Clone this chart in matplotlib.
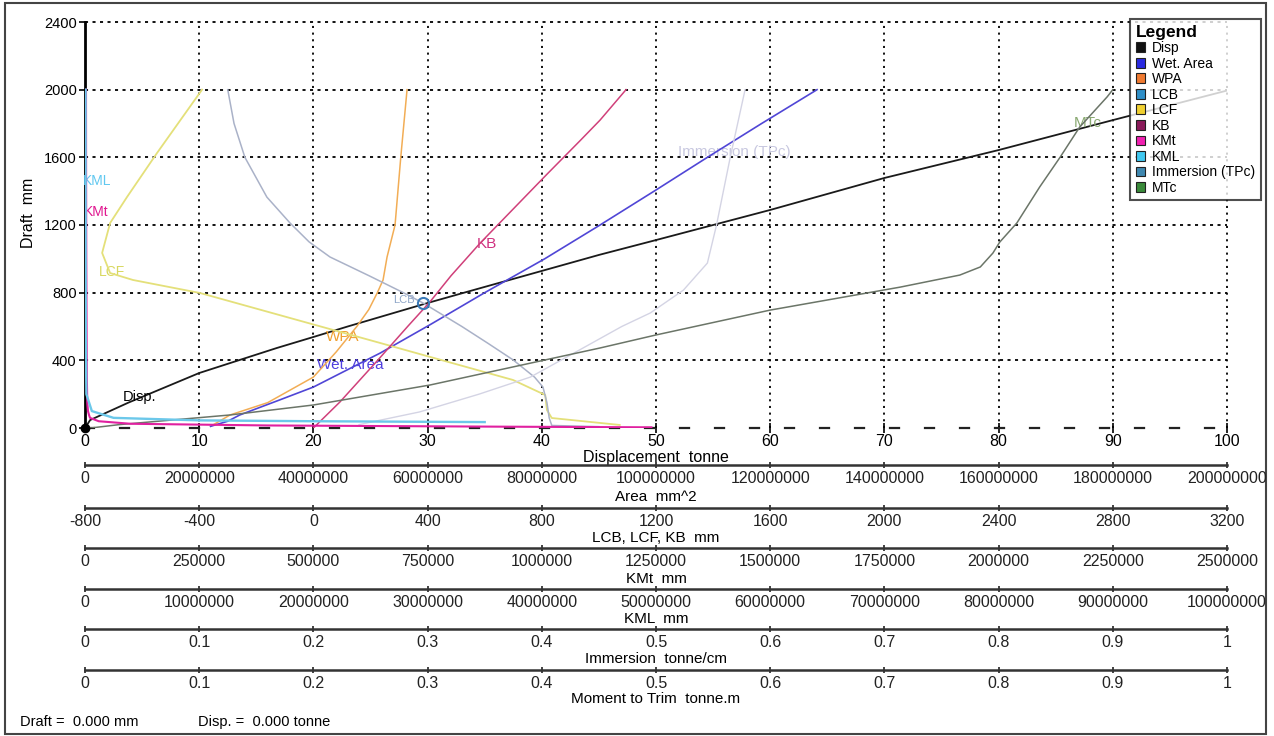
import numpy as np
import matplotlib
matplotlib.use("Agg")
import matplotlib.pyplot as plt
from matplotlib.patches import Patch, Rectangle

plt.rcParams["font.family"] = ["Liberation Sans", "DejaVu Sans"]
plt.rcParams["lines.scale_dashes"] = False

# ---------------- hydrostatic curves (draft in mm) ----------------
disp_draft = [0, 47, 150, 325, 473, 538, 600, 739, 800, 1023, 1111, 1289, 1478, 1643, 1820, 2000]
disp_tonne = [0, 0.45, 3.8, 10, 16.8, 20, 23, 30, 33.2, 45, 50, 60, 70, 80, 90, 100.3]

wet_draft = [10, 40, 77, 166, 242, 443, 610, 800, 1000, 1200, 1407, 1600, 1800, 2000]
wet_area = [2.2e7, 2.5e7, 2.71e7, 3.41e7, 4.0e7, 5.17e7, 6.04e7, 7.0e7, 8.05e7, 9.02e7,
            1.0e8, 1.09e8, 1.185e8, 1.282e8]

wpa_draft = [10, 77, 150, 301, 450, 600, 700, 800, 875, 1011, 1200, 1600, 2000]
wpa_area = [2.2e7, 2.54e7, 3.2e7, 4.0e7, 4.4e7, 4.76e7, 4.97e7, 5.12e7, 5.22e7, 5.29e7,
            5.43e7, 5.53e7, 5.64e7]

lcb_draft = [8, 15, 59, 150, 242, 300, 402, 500, 600, 739, 800, 900, 1011, 1100, 1212,
             1365, 1600, 1800, 2000]
lcb_mm = [1000, 835, 826, 818, 804, 775, 700, 612, 520, 384, 315, 195, 58, -15, -82,
          -163, -240, -278, -300]

lcf_draft = [18, 59, 106, 195, 284, 437, 503, 634, 798, 875, 916, 1035, 1212, 1365, 1625, 2000]
lcf_mm = [1073, 835, 818, 812, 699, 373, 233, -47, -397, -632, -712, -740, -712, -653,
          -548, -390]

kb_draft = [0, 154, 400, 600, 745, 900, 1093, 1300, 1500, 1700, 1820, 2000]
kb_mm = [0, 93, 225, 330, 408, 482, 584, 703, 818, 935, 1004, 1095]

kmt_draft = [4, 8, 15, 25, 40, 60, 75, 100, 150, 300, 540, 1000, 1500, 2000]
kmt_mm = [1.24e6, 9.0e5, 4.0e5, 1.0e5, 3.0e4, 1.1e4, 9.0e3, 6.5e3, 5.0e3, 4.0e3, 3.5e3,
          2.8e3, 2.4e3, 2.2e3]

kml_draft = [35, 40, 45, 60, 100, 200, 540, 1000, 1500, 2000]
kml_mm = [3.5e7, 2.0e7, 1.0e7, 2.5e6, 6.0e5, 1.2e5, 7.0e4, 6.0e4, 5.5e4, 5.0e4]

imm_draft = [20, 95, 200, 301, 450, 600, 680, 815, 975, 1200, 1600, 2000]
imm_tpc = [0.24, 0.293, 0.345, 0.39, 0.43, 0.47, 0.495, 0.524, 0.545, 0.553, 0.565, 0.578]

mtc_draft = [0, 20, 77, 136, 254, 473, 550, 697, 833, 904, 952, 1034, 1099, 1212, 1425,
             1602, 1779, 1957, 2000]
mtc_tm = [0.005, 0.03, 0.127, 0.20, 0.302, 0.451, 0.50, 0.60, 0.714, 0.766, 0.784, 0.795,
          0.801, 0.816, 0.836, 0.854, 0.871, 0.895, 0.90]

# ---------------- axis scales ----------------
disp_ticks = list(range(0, 101, 10))
draft_ticks = list(range(0, 2401, 400))
area_ticks = [0, 20000000, 40000000, 60000000, 80000000, 100000000, 120000000,
              140000000, 160000000, 180000000, 200000000]
lc_ticks = [-800, -400, 0, 400, 800, 1200, 1600, 2000, 2400, 2800, 3200]
kmt_ticks = [0, 250000, 500000, 750000, 1000000, 1250000, 1500000, 1750000, 2000000,
             2250000, 2500000]
kml_ticks = [0, 10000000, 20000000, 30000000, 40000000, 50000000, 60000000, 70000000,
             80000000, 90000000, 100000000]
unit_ticks = [0, 0.1, 0.2, 0.3, 0.4, 0.5, 0.6, 0.7, 0.8, 0.9, 1]
unit_labels = ["0", "0.1", "0.2", "0.3", "0.4", "0.5", "0.6", "0.7", "0.8", "0.9", "1"]

legend_names = ["Disp", "Wet. Area", "WPA", "LCB", "LCF", "KB", "KMt", "KML",
                "Immersion (TPc)", "MTc"]
legend_colors = ["#111111", "#2a2ae0", "#f07a30", "#2f8fc8", "#f0d030", "#8a1a5a",
                 "#f020b0", "#40c8f0", "#3f88b0", "#3a8a3a"]

# ---------------- figure ----------------
W, H = 1274, 736
L, R, B, T = 85, 1227, 428, 22
fig = plt.figure(figsize=(W / 100, H / 100), dpi=100)
fig.patch.set_facecolor("white")
ax = fig.add_axes([L / W, 1 - B / H, (R - L) / W, (B - T) / H])
ax.set_xlim(0, 100)
ax.set_ylim(0, 2400)
ax.set_zorder(10)
ax.patch.set_visible(False)

for s in ["top", "right"]:
    ax.spines[s].set_visible(False)
ax.spines["left"].set_color("black")
ax.spines["left"].set_linewidth(2.0)
ax.spines["bottom"].set_color("#222222")
ax.spines["bottom"].set_linewidth(1.6)
ax.spines["bottom"].set_linestyle((0, (6.5, 18.7)))

for xv in disp_ticks[1:]:
    ax.axvline(xv, color="black", lw=1.3, ls=(0, (1.5, 3.3)), clip_on=False, zorder=1)
for yv in draft_ticks[1:]:
    ax.axhline(yv, color="black", lw=1.3, ls=(0, (2.2, 3.2)), clip_on=False, zorder=1)

ax.set_xticks(disp_ticks, [str(v) for v in disp_ticks])
ax.set_yticks(draft_ticks, [str(v) for v in draft_ticks])
ax.tick_params(axis="x", direction="inout", length=7, width=1.2, pad=0.5, labelsize=11.5)
ax.tick_params(axis="y", direction="out", length=4, width=1.2, pad=2, labelsize=10.5)
ax.set_xlabel("Displacement  tonne", fontsize=11.5)
ax.xaxis.set_label_coords(0.5, -0.054)
ax.set_ylabel("Draft  mm", fontsize=11.5)
ax.yaxis.set_label_coords(-0.043, 0.53)


def make_scale(offset_px, lim, ticks, labels, title, title_y):
    tw = ax.twiny()
    tw.set_xlim(*lim)
    tw.set_ylim(0, 2400)
    tw.patch.set_visible(False)
    tw.xaxis.set_ticks_position("bottom")
    tw.xaxis.set_label_position("bottom")
    for s in ["top", "left", "right"]:
        tw.spines[s].set_visible(False)
    sp = tw.spines["bottom"]
    sp.set_visible(True)
    sp.set_position(("outward", offset_px * 72 / 100))
    sp.set_color("#333333")
    sp.set_linewidth(1.8)
    tw.set_xticks(ticks, labels)
    tw.tick_params(axis="x", direction="inout", length=5, width=1.2, pad=2,
                   labelsize=11.5, colors="#222222")
    tw.set_xlabel(title, fontsize=11)
    tw.xaxis.set_label_coords(0.5, title_y)
    return tw


ax_area = make_scale(37, (0, 2e8), area_ticks, [str(v) for v in area_ticks],
                     "Area  mm^2", -0.152)
ax_lc = make_scale(80, (-800, 3200), lc_ticks, [str(v) for v in lc_ticks],
                   "LCB, LCF, KB  mm", -0.253)
ax_kmt = make_scale(120, (0, 2.5e6), kmt_ticks, [str(v) for v in kmt_ticks],
                    "KMt  mm", -0.354)
ax_kml = make_scale(161, (0, 1e8), kml_ticks, [str(v) for v in kml_ticks],
                    "KML  mm", -0.453)
ax_imm = make_scale(201, (0, 1), unit_ticks, unit_labels, "Immersion  tonne/cm", -0.551)
ax_mtc = make_scale(242, (0, 1), unit_ticks, unit_labels, "Moment to Trim  tonne.m", -0.650)

# the metacentric curves sit on the draft axis line, above it
ax_kmt.set_zorder(11)
ax_kml.set_zorder(11)

# ---------------- curves ----------------
ax_mtc.plot(mtc_tm, mtc_draft, color="#6b7568", lw=1.1)
ax_imm.plot(imm_tpc, imm_draft, color="#d4d4e4", lw=1.0)
ax_area.plot(wpa_area, wpa_draft, color="#f2ad55", lw=1.1)
ax_area.plot(wet_area, wet_draft, color="#5046d6", lw=1.2)
ax_lc.plot(lcf_mm, lcf_draft, color="#e4e07a", lw=1.3)
ax_lc.plot(lcb_mm, lcb_draft, color="#aab2c8", lw=1.1)
ax_lc.plot(kb_mm, kb_draft, color="#d0407a", lw=1.1)
ax_kmt.plot(kmt_mm, kmt_draft, color="#e020a0", lw=1.5)
ax_kml.plot(kml_mm, kml_draft, color="#6cc8ea", lw=1.7)
ax.plot(disp_tonne, disp_draft, color="#1a1a1a", lw=1.3, zorder=3)

# curve markers
ax.plot(disp_tonne[0], disp_draft[0], "o", color="black", ms=6, clip_on=False, zorder=4)
i_lcb = lcb_draft.index(739)
ax_lc.plot(lcb_mm[i_lcb], lcb_draft[i_lcb], "o", mfc="none", mec="#3a7ab8", ms=8, mew=1.5)
ax_lc.annotate("LCB", (lcb_mm[i_lcb], lcb_draft[i_lcb]), xytext=(-6, 2),
               textcoords="offset points", ha="right", va="center", fontsize=8,
               color="#8fa6c8")

# curve labels
lab = dict(ha="center", va="center", fontsize=11)
ax.text(4.8, 183, "Disp.", color="black", **dict(lab, fontsize=10.5))
ax.text(23.2, 372, "Wet. Area", color="#5040e0", **lab)
ax.text(22.6, 538, "WPA", color="#f0a030", **lab)
ax.text(35.2, 1088, "KB", color="#d03080", **lab)
ax.text(2.4, 922, "LCF", color="#d8d860", **dict(lab, fontsize=10))
ax.text(1.0, 1277, "KMt", color="#e01890", **dict(lab, fontsize=10))
ax.text(1.1, 1460, "KML", color="#60c8f0", **dict(lab, fontsize=10))
ax.text(56.9, 1631, "Immersion (TPc)", color="#c8c8e0", **lab)
ax.text(87.8, 1803, "MTc", color="#88a870", **lab)

# ---------------- legend ----------------
handles = [Patch(facecolor=c, edgecolor="#222222", linewidth=0.8) for c in legend_colors]
leg = fig.legend(handles, legend_names, loc="upper left",
                 bbox_to_anchor=(1130 / W, 1 - 19 / H), title="Legend", alignment="left",
                 frameon=True, fancybox=False, fontsize=10, title_fontsize=12.5,
                 handlelength=0.7, handleheight=0.7, handletextpad=0.5,
                 labelspacing=0.11, borderpad=0.4, borderaxespad=0)
leg.get_title().set_fontweight("bold")
leg.get_frame().set_edgecolor("#222222")
leg.get_frame().set_linewidth(1.5)
leg.set_zorder(20)

# ---------------- status line and frame ----------------
fig.text(20 / W, 1 - 722 / H, "Draft =  0.000 mm", fontsize=10.5, va="center")
fig.text(198 / W, 1 - 722 / H, "Disp. =  0.000 tonne", fontsize=10.5, va="center")
fig.add_artist(Rectangle((5 / W, 2 / H), (1266 - 5) / W, (733 - 2) / H,
                         transform=fig.transFigure, fill=False, edgecolor="#444444",
                         lw=1.5))

fig.savefig("out.png", dpi=100)
